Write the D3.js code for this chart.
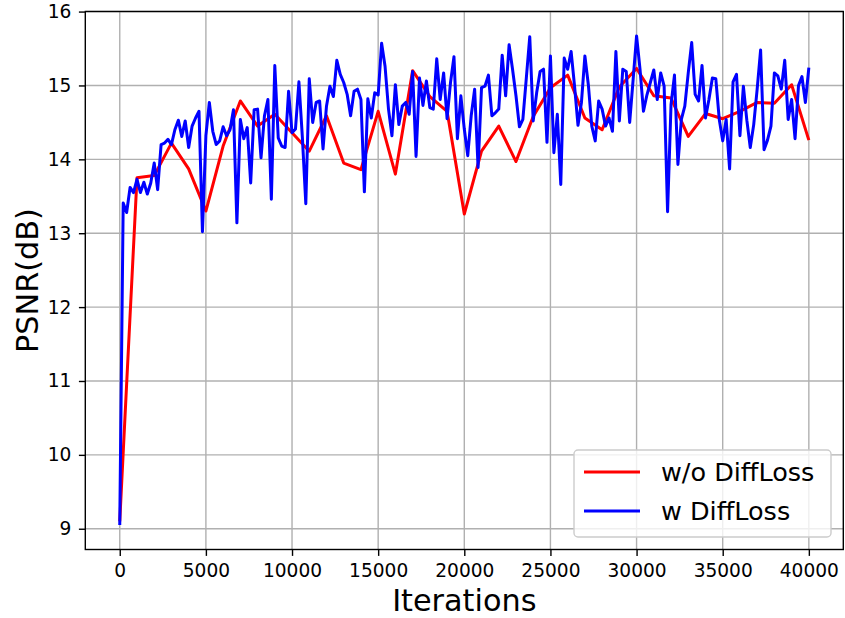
<!DOCTYPE html>
<html>
<head>
<meta charset="utf-8">
<script src="https://d3js.org/d3.v7.min.js"></script>
<style>
  body { margin: 0; background: #ffffff; }
  #container { width: 845px; height: 618px; }
  text { font-family: "DejaVu Sans", sans-serif; fill: #000000; }
</style>
</head>
<body>
<div id="container"></div>
<script>
// iterations are logged every 200 steps (blue) and every 1000 steps (red)
var blueStep = 200;
var redStep = 1000;

// PSNR without DiffLoss, one value per 1000 iterations
var woDiffLoss = [9.1, 13.75, 13.78, 14.22, 13.87, 13.3, 14.18, 14.79, 14.45, 14.61,
  14.36, 14.11, 14.59, 13.95, 13.86, 14.65, 13.8, 15.2, 14.85, 14.65,
  13.26, 14.11, 14.45, 13.97, 14.58, 14.97, 15.14, 14.56, 14.4, 14.98,
  15.23, 14.86, 14.83, 14.31, 14.62, 14.55, 14.65, 14.77, 14.76, 15.01, 14.26];

// PSNR with DiffLoss, one value per 200 iterations
var wDiffLoss = [9.05, 13.41, 13.28, 13.62, 13.55, 13.73, 13.55, 13.69, 13.53, 13.68,
  13.95, 13.59, 14.2, 14.22, 14.27, 14.2, 14.4, 14.53, 14.31, 14.52,
  14.16, 14.45, 14.56, 14.65, 13.02, 14.32, 14.77, 14.38, 14.2, 14.25,
  14.44, 14.32, 14.4, 14.67, 13.14, 14.54, 14.28, 14.43, 13.68, 14.67,
  14.68, 14.02, 14.59, 14.81, 13.46, 15.27, 14.29, 14.18, 14.16, 14.92,
  14.36, 14.41, 15.05, 14.3, 13.4, 15.09, 14.5, 14.77, 14.79, 14.14,
  14.72, 14.99, 14.85, 15.34, 15.15, 15.04, 14.88, 14.59, 14.92, 14.95,
  14.81, 13.56, 14.82, 14.56, 14.9, 14.87, 15.57, 15.26, 14.68, 14.32,
  15.01, 14.47, 14.72, 14.77, 14.61, 15.19, 14.04, 15.1, 14.73, 15.06,
  14.7, 14.68, 15.36, 14.81, 15.17, 14.55, 15.04, 15.39, 14.28, 14.86,
  14.41, 14.05, 14.59, 14.95, 13.89, 14.97, 14.99, 15.14, 14.59, 14.63,
  14.68, 15.41, 14.86, 15.55, 15.22, 14.86, 14.44, 14.54, 15.1, 15.66,
  14.52, 14.9, 15.19, 15.22, 14.23, 15.4, 14.09, 14.61, 13.66, 15.37,
  15.22, 15.46, 14.99, 14.46, 14.77, 15.4, 15.01, 14.45, 14.25, 14.79,
  14.68, 14.45, 14.56, 14.38, 15.46, 14.52, 15.22, 15.19, 14.5, 15.08,
  15.67, 15.22, 14.65, 14.87, 15.04, 15.21, 14.81, 15.17, 14.99, 13.29,
  14.74, 15.14, 13.93, 14.54, 14.72, 15.17, 15.58, 14.88, 14.79, 15.27,
  14.56, 14.81, 15.1, 15.09, 14.54, 14.25, 14.54, 13.87, 15.05, 15.15,
  14.32, 14.99, 14.53, 14.16, 14.47, 14.95, 15.48, 14.13, 14.26, 14.45,
  15.17, 15.13, 14.95, 15.34, 14.54, 14.81, 14.28, 15.0, 15.12, 14.77, 15.24];

// tick labels
var xTicks = [0, 5000, 10000, 15000, 20000, 25000, 30000, 35000, 40000];
var yTicks = [9, 10, 11, 12, 13, 14, 15, 16];

// legend entries
var seriesNames = ["w/o DiffLoss", "w DiffLoss"];
var seriesColors = ["#ff0000", "#0000ff"];

var width = 845;
var height = 618;
var margin = {top: 11.5, right: 1.7, bottom: 68.5, left: 85.3};
var plotW = width - margin.left - margin.right;
var plotH = height - margin.top - margin.bottom;

// build point lists from the value arrays
var redData = woDiffLoss.map(function(v, i) { return {x: i * redStep, y: v}; });
var blueData = wDiffLoss.map(function(v, i) { return {x: i * blueStep, y: v}; });
var allData = redData.concat(blueData);

// matplotlib style 5% margins on both axes
var xExt = d3.extent(allData, function(d) { return d.x; });
var yExt = d3.extent(allData, function(d) { return d.y; });
var xPad = (xExt[1] - xExt[0]) * 0.05;
var yPad = (yExt[1] - yExt[0]) * 0.05;

var x = d3.scaleLinear().domain([xExt[0] - xPad, xExt[1] + xPad]).range([0, plotW]);
var y = d3.scaleLinear().domain([yExt[0] - yPad, yExt[1] + yPad]).range([plotH, 0]);

var svg = d3.select("#container")
  .append("svg")
  .attr("width", width)
  .attr("height", height)
  .append("g")
  .attr("transform", "translate(" + margin.left + "," + margin.top + ")");

// grid lines
svg.append("g")
  .selectAll("line")
  .data(xTicks)
  .enter().append("line")
  .attr("x1", function(d) { return x(d); })
  .attr("x2", function(d) { return x(d); })
  .attr("y1", 0)
  .attr("y2", plotH)
  .attr("stroke", "#b0b0b0")
  .attr("stroke-width", 1.4);

svg.append("g")
  .selectAll("line")
  .data(yTicks)
  .enter().append("line")
  .attr("x1", 0)
  .attr("x2", plotW)
  .attr("y1", function(d) { return y(d); })
  .attr("y2", function(d) { return y(d); })
  .attr("stroke", "#b0b0b0")
  .attr("stroke-width", 1.4);

// the two curves
var line = d3.line()
  .x(function(d) { return x(d.x); })
  .y(function(d) { return y(d.y); });

svg.append("path")
  .datum(redData)
  .attr("d", line)
  .attr("fill", "none")
  .attr("stroke", seriesColors[0])
  .attr("stroke-width", 3)
  .attr("stroke-linejoin", "round");

svg.append("path")
  .datum(blueData)
  .attr("d", line)
  .attr("fill", "none")
  .attr("stroke", seriesColors[1])
  .attr("stroke-width", 3)
  .attr("stroke-linejoin", "round");

// axes
svg.append("g")
  .attr("transform", "translate(0," + plotH + ")")
  .call(d3.axisBottom(x).tickValues(xTicks).tickFormat(d3.format("d")).tickSize(6.4).tickPadding(8).tickSizeOuter(0));

svg.append("g")
  .call(d3.axisLeft(y).tickValues(yTicks).tickFormat(d3.format("d")).tickSize(6.4).tickPadding(7.6).tickSizeOuter(0));

svg.selectAll(".tick line").attr("stroke", "#000000").attr("stroke-width", 1.4);
svg.selectAll(".tick text")
  .style("font-family", "'DejaVu Sans', sans-serif")
  .style("font-size", "18.6px")
  .attr("fill", "#000000");
svg.selectAll(".domain").remove();

// frame around the plot
svg.append("rect")
  .attr("x", 0)
  .attr("y", 0)
  .attr("width", plotW)
  .attr("height", plotH)
  .attr("fill", "none")
  .attr("stroke", "#000000")
  .attr("stroke-width", 1.4);

// axis labels
svg.append("text")
  .attr("x", plotW / 2)
  .attr("y", plotH + 61.5)
  .attr("text-anchor", "middle")
  .style("font-size", "30.3px")
  .text("Iterations");

svg.append("text")
  .attr("transform", "rotate(-90)")
  .attr("x", -plotH / 2)
  .attr("y", -47.5)
  .attr("text-anchor", "middle")
  .style("font-size", "30.3px")
  .text("PSNR(dB)");

// legend box
var legend = svg.append("g")
  .attr("transform", "translate(" + (574 - margin.left) + "," + (450 - margin.top) + ")");

legend.append("rect")
  .attr("width", 257)
  .attr("height", 87)
  .attr("rx", 4)
  .attr("fill", "#ffffff")
  .attr("fill-opacity", 0.8)
  .attr("stroke", "#cccccc")
  .attr("stroke-width", 1.4);

var items = legend.selectAll(".item")
  .data(seriesNames)
  .enter().append("g")
  .attr("class", "item")
  .attr("transform", function(d, i) { return "translate(0," + (22 + i * 39) + ")"; });

items.append("line")
  .attr("x1", 10)
  .attr("x2", 66)
  .attr("stroke", function(d, i) { return seriesColors[i]; })
  .attr("stroke-width", 3);

items.append("text")
  .attr("x", 87)
  .attr("y", 9)
  .style("font-size", "25.5px")
  .text(function(d) { return d; });
</script>
</body>
</html>
